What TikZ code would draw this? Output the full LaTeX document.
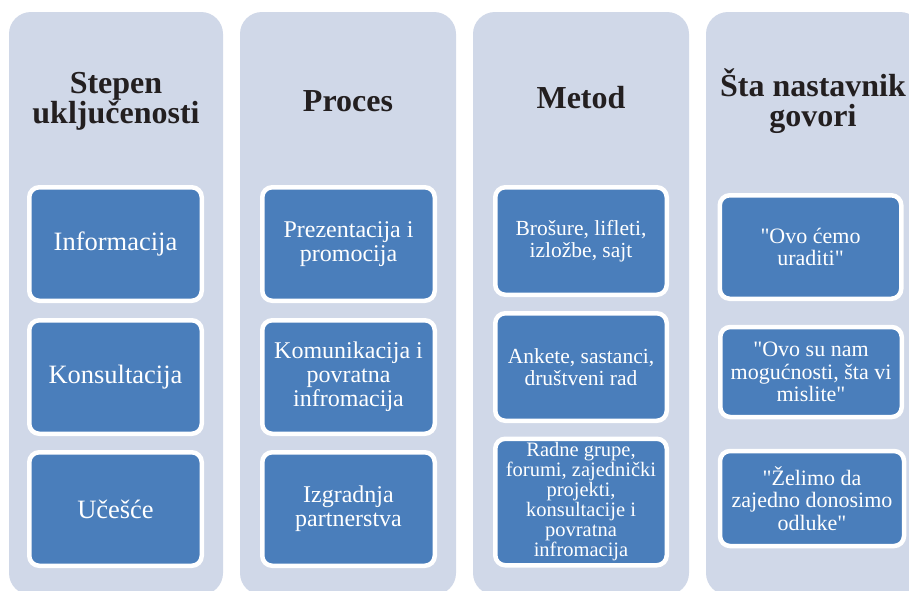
\documentclass[tikz,border=0pt]{standalone}
\usepackage{fontspec}
\setmainfont{Liberation Serif}
\definecolor{bgc}{RGB}{208,216,232}
\definecolor{boxc}{RGB}{74,126,187}
\definecolor{ttlc}{RGB}{35,31,32}
\newcommand{\qq}{\textquotedbl}
\tikzset{
  col/.style={fill=bgc, rounded corners=22pt, inner sep=0pt, minimum height=583pt},
  box/.style={fill=boxc, draw=white, line width=4.5pt, rounded corners=10pt, text=white, align=center, inner sep=0pt},
  ttl/.style={text=ttlc, font=\bfseries\fontsize{32}{30}\selectfont, align=center},
  fA/.style={font=\fontsize{26.5}{26.5}\selectfont},
  fB/.style={font=\fontsize{24}{24}\selectfont},
  fC/.style={font=\fontsize{21.5}{21.5}\selectfont},
  fD/.style={font=\fontsize{20.5}{20}\selectfont},
  fE/.style={font=\fontsize{22}{22.5}\selectfont},
}
\begin{document}
\begin{tikzpicture}[x=1pt,y=-1pt]
\useasboundingbox (0,0) rectangle (909,590);
\clip (0,0) rectangle (909,590);
\fill[white] (0,0) rectangle (909,590);
% columns
\node[col, minimum width=214pt] (c1) at (116,303.5) {};
\node[col, minimum width=216pt] (c2) at (348,303.5) {};
\node[col, minimum width=216pt] (c3) at (581,303.5) {};
\node[col, minimum width=216pt] (c4) at (814,303.5) {};
% titles
\node[ttl] (t1) at (116,101) {Stepen\\uključenosti};
\node[ttl] (t2) at (348,101) {Proces};
\node[ttl] (t3) at (581,97.5) {Metod};
\node[ttl] (t4) at (813,101) {Šta nastavnik\\govori};
% column 1
\node[box, fA, minimum width=172.5pt, minimum height=113.5pt] (a1) at (115.5,244) {Informacija};
\node[box, fA, minimum width=172.5pt, minimum height=113.5pt] (a2) at (115.5,377) {Konsultacija};
\node[box, fA, minimum width=172.5pt, minimum height=113.5pt] (a3) at (115.5,509) {Učešće};
% column 2
\node[box, fB, minimum width=172.5pt, minimum height=113.5pt] (b1) at (348.5,244) {Prezentacija i\\promocija};
\node[box, fB, minimum width=172.5pt, minimum height=113.5pt] (b2) at (348.5,377) {Komunikacija i\\povratna\\infromacija};
\node[box, fB, minimum width=172.5pt, minimum height=113.5pt] (b3) at (348.5,509) {Izgradnja\\partnerstva};
% column 3
\node[box, fC, minimum width=171.5pt, minimum height=107.5pt] (m1) at (581,241) {Brošure, lifleti,\\izložbe, sajt};
\node[box, fC, minimum width=171.5pt, minimum height=107.5pt] (m2) at (581,367) {Ankete, sastanci,\\društveni rad};
\node[box, fD, minimum width=171.5pt, minimum height=126.5pt] (m3) at (581,502) {Radne grupe,\\forumi, zajednički\\projekti,\\konsultacije i\\povratna\\infromacija};
% column 4
\node[box, fE, minimum width=181.5pt, minimum height=103.5pt] (g1) at (810.5,247) {\qq Ovo ćemo\\uraditi\qq};
\node[box, fE, minimum width=181.5pt, minimum height=90pt] (g2) at (811,372) {\qq Ovo su nam\\mogućnosti, šta vi\\mislite\qq};
\node[box, fE, minimum width=184pt, minimum height=95pt] (g3) at (812,498.5) {\qq Želimo da\\zajedno donosimo\\odluke\qq};
\end{tikzpicture}
\end{document}
